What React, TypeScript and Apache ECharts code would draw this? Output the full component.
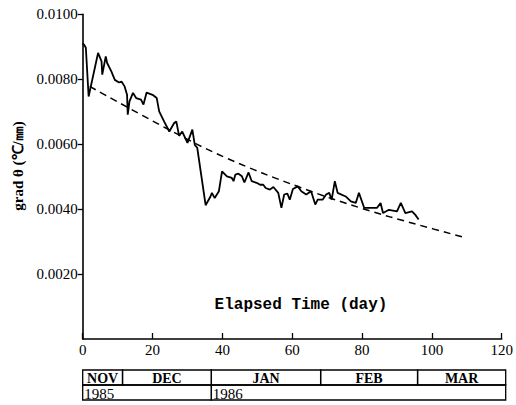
import React, { useEffect, useRef } from 'react';
import * as echarts from 'echarts';

// measured gradient (day, grad θ in ℃/mm)
const gradPoints: [number, number][] = [
  [0, 0.00911], [0.4, 0.00906], [0.9, 0.00897], [1.7, 0.00747], [4.4, 0.00881], [5.4, 0.00855],
  [5.6, 0.00814], [6.6, 0.0087], [7.0, 0.0085], [8.2, 0.00824], [9.2, 0.00798], [10.4, 0.0079],
  [11.1, 0.00793], [12.0, 0.00778], [12.7, 0.00752], [12.9, 0.00691], [13.4, 0.00732], [14.4, 0.00758],
  [15.3, 0.00742], [16.7, 0.00737], [17.4, 0.00722], [18.3, 0.00759], [20.0, 0.00752], [21.2, 0.00742],
  [21.9, 0.00701], [23.3, 0.0067], [24.8, 0.00639], [26.2, 0.00665], [26.8, 0.0067], [27.6, 0.00626],
  [28.5, 0.00639], [30.0, 0.00604], [31.4, 0.00645], [32.1, 0.00598], [32.8, 0.00589], [35.2, 0.00412],
  [36.6, 0.00439], [37.0, 0.0045], [37.8, 0.00434], [39.0, 0.00455], [39.9, 0.00516], [41.3, 0.00501],
  [42.7, 0.00496], [43.2, 0.00486], [43.7, 0.00506], [44.6, 0.00509], [45.6, 0.00501], [46.3, 0.00482],
  [47.5, 0.00513], [48.4, 0.00486], [49.8, 0.00481], [50.8, 0.00475], [51.7, 0.00475], [52.4, 0.00465],
  [53.6, 0.0046], [54.6, 0.00468], [56.0, 0.0045], [56.9, 0.00404], [57.7, 0.00445], [58.6, 0.00448],
  [59.3, 0.00429], [60.2, 0.00462], [61.6, 0.0047], [62.6, 0.00455], [64.0, 0.00445], [65.4, 0.00455],
  [66.6, 0.00414], [67.3, 0.00429], [68.7, 0.00429], [69.7, 0.00445], [70.6, 0.0045], [71.3, 0.00429],
  [72.2, 0.00486], [73.0, 0.0045], [75.3, 0.00439], [76.8, 0.00424], [78.2, 0.00419], [79.1, 0.0045],
  [80.6, 0.00404], [82.4, 0.00404], [84.3, 0.00404], [85.3, 0.00419], [86.0, 0.00388], [87.7, 0.00398],
  [90.0, 0.00393], [91.1, 0.00419], [92.4, 0.00388], [94.3, 0.00393], [95.2, 0.00383], [96.2, 0.00368],
];

// fitted trend (dashed)
const trendPoints: [number, number][] = [
  [2, 0.00778], [25, 0.00643], [41, 0.00558], [62, 0.00468], [80, 0.00402], [96, 0.00352], [110, 0.00311],
];

// month / year table below the axis
const monthNames = ['NOV', 'DEC', 'JAN', 'FEB', 'MAR'];
const monthStarts = [0, 11.3, 36.5, 67.5, 95];
const monthEnds = [11.3, 36.5, 67.5, 95, 120];
const yearNames = ['1985', '1986'];
const yearStarts = [0, 36.5];
const yearEnds = [36.5, 120];

const serif = '"Liberation Serif", "Times New Roman", serif';

export default function App() {
  const ref = useRef<HTMLDivElement>(null);
  useEffect(() => {
    const chart = echarts.init(ref.current!, null, { renderer: 'svg' });
    const cell = (names: string[], starts: number[], ends: number[], row: number, center: boolean, bold: boolean, size: number) =>
      (params: any, api: any) => {
        const i = params.dataIndex;
        const p0 = api.coord([starts[i], row]);
        const p1 = api.coord([ends[i], row + 1]);
        return {
          type: 'group',
          children: [
            {
              type: 'rect',
              shape: { x: p0[0], y: p0[1], width: p1[0] - p0[0], height: p1[1] - p0[1] },
              style: { fill: 'none', stroke: '#000', lineWidth: 1.3 },
            },
            {
              type: 'text',
              style: {
                text: names[i],
                x: center ? (p0[0] + p1[0]) / 2 : p0[0] + 1.5,
                y: (p0[1] + p1[1]) / 2 + 1,
                align: center ? 'center' : 'left',
                verticalAlign: 'middle',
                fontFamily: serif,
                fontWeight: bold ? 'bold' : 'normal',
                fontSize: size,
                fill: '#000',
              },
            },
          ],
        };
      };
    chart.setOption({
      animation: false,
      backgroundColor: '#fff',
      grid: [
        { left: 82.7, right: 10.3, top: 14.3, bottom: 66 },
        { left: 82.7, right: 10.3, top: 370, height: 30 },
      ],
      xAxis: [
        {
          type: 'value', gridIndex: 0, min: 0, max: 120, interval: 20,
          axisLine: { lineStyle: { color: '#000', width: 1.5 } },
          axisTick: { inside: true, length: 6, lineStyle: { color: '#000', width: 1.3 } },
          axisLabel: { color: '#000', fontFamily: serif, fontSize: 15, margin: 3 },
          splitLine: { show: false },
        },
        { type: 'value', gridIndex: 1, min: 0, max: 120, show: false },
      ],
      yAxis: [
        {
          type: 'value', gridIndex: 0, min: 0, max: 0.01, interval: 0.002,
          axisLine: { show: true, lineStyle: { color: '#000', width: 1.6 } },
          axisTick: { show: true, length: 5, lineStyle: { color: '#000', width: 1.3 } },
          axisLabel: {
            color: '#000', fontFamily: serif, fontSize: 15, margin: 5, showMinLabel: false,
            formatter: (v: number) => v.toFixed(4),
          },
          splitLine: { show: false },
        },
        { type: 'value', gridIndex: 1, min: 0, max: 2, inverse: true, show: false },
      ],
      series: [
        {
          type: 'line', xAxisIndex: 0, yAxisIndex: 0, data: gradPoints, showSymbol: false,
          lineStyle: { color: '#000', width: 1.8 }, z: 3,
        },
        {
          type: 'line', xAxisIndex: 0, yAxisIndex: 0, data: trendPoints, showSymbol: false, smooth: 0.4,
          lineStyle: { color: '#000', width: 1.5, type: [7, 5] }, z: 2,
        },
        {
          type: 'custom', xAxisIndex: 1, yAxisIndex: 1, clip: false,
          data: monthNames.map((_, i) => [monthStarts[i], monthEnds[i]]),
          renderItem: cell(monthNames, monthStarts, monthEnds, 0, true, true, 14),
        },
        {
          type: 'custom', xAxisIndex: 1, yAxisIndex: 1, clip: false,
          data: yearNames.map((_, i) => [yearStarts[i], yearEnds[i]]),
          renderItem: cell(yearNames, yearStarts, yearEnds, 1, false, false, 15),
        },
      ],
      graphic: [
        {
          type: 'text', x: 18, y: 166, rotation: Math.PI / 2,
          style: {
            text: 'grad θ (℃/㎜)', align: 'center', verticalAlign: 'middle',
            fontFamily: serif, fontWeight: 'bold', fontSize: 15, fill: '#000',
          },
        },
        {
          type: 'text', x: 301, y: 305,
          style: {
            text: 'Elapsed Time (day)', align: 'center', verticalAlign: 'middle',
            fontFamily: '"Liberation Mono", monospace', fontWeight: 'bold', fontSize: 16, fill: '#000',
          },
        },
      ],
    });
    return () => chart.dispose();
  }, []);
  return <div ref={ref} style={{ position: 'absolute', left: 0, top: 0, width: 516, height: 405 }} />;
}
